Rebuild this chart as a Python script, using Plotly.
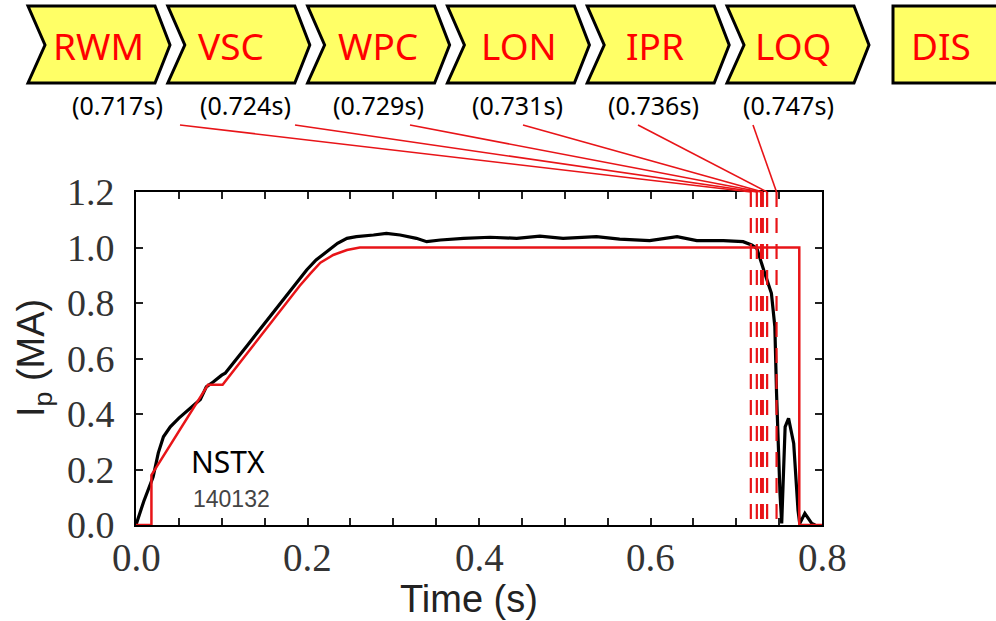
import plotly.graph_objects as go

# ---------------- data ----------------
# measured plasma current (black)
T_MEAS = [0.000, 0.009, 0.020, 0.026, 0.032, 0.040, 0.050, 0.059, 0.066, 0.075, 0.082, 0.090,
          0.100, 0.104, 0.130, 0.160, 0.191, 0.199, 0.210, 0.222, 0.235, 0.246, 0.257, 0.277,
          0.292, 0.308, 0.327, 0.339, 0.355, 0.382, 0.413, 0.444, 0.471, 0.498, 0.537, 0.564,
          0.599, 0.631, 0.654, 0.685, 0.708, 0.718, 0.724, 0.732, 0.741, 0.745, 0.747, 0.751,
          0.753, 0.757, 0.761, 0.767, 0.772, 0.774, 0.780, 0.788, 0.792]
IP_MEAS = [0.000, 0.085, 0.174, 0.260, 0.318, 0.354, 0.385, 0.410, 0.430, 0.452, 0.498, 0.515,
           0.540, 0.547, 0.648, 0.764, 0.884, 0.919, 0.955, 0.985, 1.015, 1.033, 1.039, 1.045,
           1.051, 1.045, 1.033, 1.021, 1.027, 1.033, 1.037, 1.033, 1.041, 1.033, 1.039, 1.030,
           1.025, 1.039, 1.025, 1.025, 1.021, 1.009, 0.997, 0.919, 0.835, 0.715, 0.475, 0.115,
           0.006, 0.354, 0.384, 0.294, 0.054, 0.005, 0.042, 0.006, 0.000]

# programmed plasma current (red)
T_PROG = [0.000, 0.018, 0.018, 0.084, 0.101, 0.191, 0.203, 0.215, 0.230, 0.246, 0.261,
          0.7735, 0.7735, 0.800]
IP_PROG = [0.000, 0.000, 0.180, 0.505, 0.505, 0.862, 0.905, 0.945, 0.973, 0.991, 1.000,
           1.000, 0.000, 0.000]

# event detection times
EVENT_NAMES = ["RWM", "VSC", "WPC", "LON", "IPR", "LOQ"]
EVENT_TIMES = [0.717, 0.724, 0.729, 0.731, 0.736, 0.747]
FINAL_NAME = "DIS"

X_RANGE = [0.0, 0.8]
Y_RANGE = [0.0, 1.2]
X_TICKS = [0.0, 0.2, 0.4, 0.6, 0.8]
Y_TICKS = [0.0, 0.2, 0.4, 0.6, 0.8, 1.0, 1.2]

# ---------------- layout helpers ----------------
W, H = 996, 621
L, R, T, B = 136, 822, 192, 525  # plot area in pixels


def px(x):
    return (x - L) / (R - L)


def py(y):
    return (B - y) / (B - T)


RED = "rgb(232,20,24)"

fig = go.Figure()

fig.add_trace(go.Scatter(x=T_MEAS, y=IP_MEAS, mode="lines",
                         line=dict(color="black", width=3.2), hoverinfo="skip"))
fig.add_trace(go.Scatter(x=T_PROG, y=IP_PROG, mode="lines",
                         line=dict(color=RED, width=2.5), hoverinfo="skip"))
for t in EVENT_TIMES:
    fig.add_trace(go.Scatter(x=[t, t], y=[Y_RANGE[1], Y_RANGE[0]], mode="lines",
                             line=dict(color=RED, width=2.2, dash="15px,11px"),
                             hoverinfo="skip"))

shapes = []
annotations = []

# chevrons
CHEV_X0 = [28 + 139.8 * i for i in range(len(EVENT_NAMES))]
top, mid, bot = 6, 45, 83
for x0 in CHEV_X0:
    pts = [(x0, top), (x0 + 127, top), (x0 + 142, mid), (x0 + 127, bot), (x0, bot), (x0 + 17, mid)]
    path = "M " + " L ".join(f"{px(a):.5f},{py(b):.5f}" for a, b in pts) + " Z"
    shapes.append(dict(type="path", xref="paper", yref="paper", path=path,
                       fillcolor="#FFFF66", line=dict(color="black", width=3), layer="above"))
shapes.append(dict(type="rect", xref="paper", yref="paper",
                   x0=px(893), x1=px(1003), y0=py(bot), y1=py(top),
                   fillcolor="#FFFF66", line=dict(color="black", width=3), layer="above"))

NAME_X = [98, 231, 378, 519, 655, 793]
for name, xc in zip(EVENT_NAMES, NAME_X):
    annotations.append(dict(x=px(xc), y=py(45), xref="paper", yref="paper", text=name,
                            showarrow=False, xanchor="center", yanchor="middle",
                            font=dict(family="Noto Sans", size=37, color="#FF0000")))
annotations.append(dict(x=px(941), y=py(45), xref="paper", yref="paper", text=FINAL_NAME,
                        showarrow=False, xanchor="center", yanchor="middle",
                        font=dict(family="Noto Sans", size=37, color="#FF0000")))

# time labels
TIME_LABEL_X = [117, 245, 378, 517, 653, 788]
for t, xc in zip(EVENT_TIMES, TIME_LABEL_X):
    annotations.append(dict(x=px(xc), y=py(105), xref="paper", yref="paper",
                            text=f"({t:.3f}s)", showarrow=False, xanchor="center",
                            yanchor="middle",
                            font=dict(family="Noto Sans", size=25, color="black")))

# connector lines from labels to dashed lines (tail in data-x units)
LINK_TAIL_T = [(x - L) / (R - L) * (X_RANGE[1] - X_RANGE[0]) for x in [180, 295, 410, 523, 638, 753]]
for tail, t in zip(LINK_TAIL_T, EVENT_TIMES):
    shapes.append(dict(type="line", xref="x", yref="paper", x0=tail, y0=py(125),
                       x1=t, y1=1.0, line=dict(color=RED, width=1.6), layer="above"))

# text inside the plot
annotations.append(dict(x=px(228), y=py(461), xref="paper", yref="paper", text="NSTX",
                        showarrow=False, xanchor="center", yanchor="middle",
                        font=dict(family="Noto Sans", size=30, color="black")))
annotations.append(dict(x=px(231), y=py(499), xref="paper", yref="paper", text="140132",
                        showarrow=False, xanchor="center", yanchor="middle",
                        font=dict(family="Liberation Sans", size=23, color="#444444")))

# x tick labels placed through the x axis scale
for v in X_TICKS:
    annotations.append(dict(x=v, y=py(557), xref="x", yref="paper", text=f"{v:.1f}",
                            showarrow=False, xanchor="center", yanchor="middle",
                            font=dict(family="Liberation Serif", size=39, color="#333333")))

# axis titles
annotations.append(dict(x=px(469), y=py(599), xref="paper", yref="paper", text="Time (s)",
                        showarrow=False, xanchor="center", yanchor="middle",
                        font=dict(family="Liberation Sans", size=38, color="#222222")))
annotations.append(dict(x=px(34), y=py(358), xref="paper", yref="paper",
                        text="I<sub>p</sub> (MA)", textangle=-90,
                        showarrow=False, xanchor="center", yanchor="middle",
                        font=dict(family="Liberation Sans", size=38, color="#222222")))

axis_common = dict(showline=True, linecolor="black", linewidth=2, mirror="allticks",
                   ticks="inside", ticklen=7, tickwidth=1.5, tickcolor="#222222",
                   showgrid=False, zeroline=False,
                   tickfont=dict(family="Liberation Serif", size=38, color="#333333"))

fig.update_layout(
    width=W, height=H, autosize=False,
    margin=dict(l=L, r=W - R, t=T, b=H - B, pad=0),
    paper_bgcolor="white", plot_bgcolor="white",
    showlegend=False,
    xaxis=dict(range=X_RANGE, tickvals=X_TICKS, showticklabels=False,
               minor=dict(dtick=0.05, ticks="inside", ticklen=7, tickwidth=1.5, tickcolor="#222222"),
               **axis_common),
    yaxis=dict(range=Y_RANGE, tickvals=Y_TICKS, ticktext=[f"{v:.1f}" for v in Y_TICKS],
               ticklabelstandoff=12, **axis_common),
    shapes=shapes, annotations=annotations,
)

fig.write_html("out.html", config={"displayModeBar": False},
               post_script="document.body.style.margin='0px';document.body.style.overflow='hidden';")
